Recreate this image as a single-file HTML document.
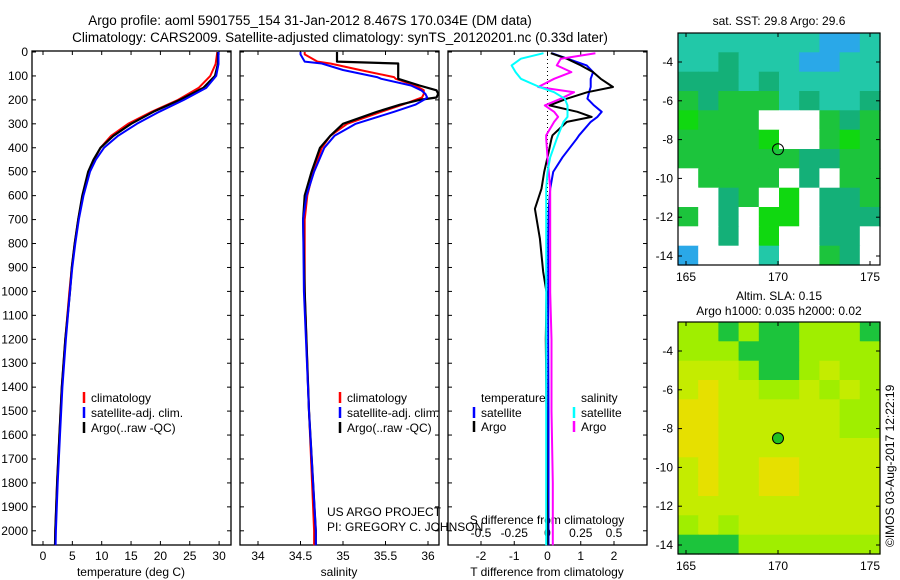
<!DOCTYPE html>
<html><head><meta charset="utf-8">
<style>
body{margin:0;background:#fff;}
svg{display:block;font-family:"Liberation Sans",Arial,sans-serif;}
</style></head>
<body>
<svg id="fig" width="900" height="580" viewBox="0 0 900 580" xmlns="http://www.w3.org/2000/svg">
<text x="310" y="25" font-size="13.5" text-anchor="middle">Argo profile: aoml 5901755_154 31-Jan-2012 8.467S 170.034E (DM data)</text>
<text x="340" y="42" font-size="13.5" text-anchor="middle">Climatology: CARS2009. Satellite-adjusted climatology: synTS_20120201.nc (0.33d later)</text>
<g id="g"></g>
</svg>
<script>
// ---- data ----
const depthT = [0,50,100,150,200,250,300,350,400,450,500,600,700,800,900,1000,1200,1400,1600,1800,2000,2060];
const tempArgo = [29.8,29.8,29.3,27.3,23.3,18.8,15,12,9.8,8.6,7.7,6.7,6.0,5.4,4.9,4.6,3.8,3.2,2.8,2.4,2.1,2.05];
const tempClim = [29.7,29.4,28.5,26.5,23,18.5,14.5,11.6,9.8,8.7,7.8,6.8,6.0,5.4,4.9,4.5,3.8,3.2,2.8,2.4,2.1,2.05];
const tempSat = [29.9,29.9,29.5,27.8,24,19.8,16,12.8,10.4,9.0,8.0,6.9,6.1,5.5,5.0,4.6,3.9,3.3,2.9,2.5,2.2,2.15];
const depthS = [0,10,40,48,75,105,112,140,160,175,190,200,220,250,300,350,400,500,600,700,1000,1500,2000,2060];
const salArgo = [34.93,34.93,34.93,35.65,35.65,35.65,35.65,35.9,36.1,36.12,36.1,35.9,35.67,35.4,35.0,34.85,34.73,34.63,34.55,34.53,34.55,34.6,34.68,34.68];
const salClim = [34.55,34.55,34.7,34.85,35.2,35.6,35.62,35.85,35.95,35.95,35.93,35.85,35.7,35.45,35.05,34.85,34.75,34.65,34.58,34.55,34.55,34.6,34.66,34.66];
const salSat = [34.5,34.5,34.55,34.75,35.0,35.4,35.45,35.8,35.92,35.97,35.99,35.95,35.85,35.6,35.15,34.9,34.78,34.66,34.57,34.53,34.54,34.6,34.68,34.68];
const depthD = [5,28,56,84,112,146,168,195,223,250,271,292,348,362,440,501,571,655,780,919,1003,1200,1500,1800,2000,2060];
const dTsat = [0.13,0.6,1.18,1.37,1.3,1.3,1.25,1.2,1.4,1.63,1.5,1.3,0.95,0.88,0.45,0.17,0.08,0.04,0.02,0.02,0.02,0.02,0.03,0.03,0.03,0.03];
const dTargo = [0.1,0.58,1.0,1.37,1.6,1.97,1.2,0.58,0.06,0.9,1.33,0.58,0.15,0.12,0.0,-0.1,-0.18,-0.38,-0.23,-0.13,-0.03,-0.05,-0.03,-0.02,0.0,0.0];
const dSsat = [-0.03,-0.2,-0.27,-0.24,-0.2,-0.06,0.05,0.13,0.15,0.15,0.15,0.12,0.08,0.07,0.02,0.0,-0.01,-0.01,-0.01,-0.01,-0.01,-0.01,-0.01,-0.01,-0.01,-0.01];
const dSargo = [0.36,0.1,0.07,0.18,0.05,-0.07,0.2,0.1,-0.02,0.05,0.08,0.05,-0.01,-0.01,0.0,0.01,0.02,0.02,0.02,0.02,0.02,0.03,0.03,0.04,0.04,0.04];
const depthTicks = [0,100,200,300,400,500,600,700,800,900,1000,1100,1200,1300,1400,1500,1600,1700,1800,1900,2000];
const tempTicks = [0,5,10,15,20,25,30];
const salTicks = [34,34.5,35,35.5,36];
const salTickLabels = ["34","34.5","35","35.5","36"];
const dTTicks = [-2,-1,0,1,2];
const dSTicks = [-0.5,-0.25,0,0.25,0.5];
const dSTickLabels = ["-0.5","-0.25","0","0.25","0.5"];
const sstRows = ["cccccccbbc","cctcccbbcc","tttctccccc","gtgggctcct","Ggggwwwgtg","ggggGwwgGg","ggggggttgg","wggggwtwgg","wwtgwGwttg","gwtwGGwttt","wwtwGwwttw","bwwwcwwgtw"];
const slaRows = ["LLgLggLLLg","LLLgggLLLL","lllLggLlLL","lyllLLlLlL","yyllllllL L".replace(' ',''),"yyllllllLL","yyllllllll","lyllyyllll","lyllyyllll","lllllllllly".slice(0,10),"LlLlllllll","gggLLLLLLL"];
const mapColors = {c:"#22c8a8",t:"#14b078",g:"#1cc43c",G:"#10d810",w:"#ffffff",b:"#2aa8e8",y:"#e6e000",l:"#c4ec00",L:"#a0ee00"};

// ---- helpers ----
const NS="http://www.w3.org/2000/svg";
const G=document.getElementById('g');
function mk(tag,attrs,parent){const e=document.createElementNS(NS,tag);for(const k in attrs)e.setAttribute(k,attrs[k]);(parent||G).appendChild(e);return e;}
const top0=51, bot0=545;
const yD = d => 52 + d*0.2394;
const xT = v => 43 + v*5.87;
const xS = v => 258 + (v-34)*85;
const xDT = v => 547.5 + v*33.25;
const xDS = v => 547.5 + v*133;

function panel(x0,x1,name){
  const r=mk('rect',{x:x0,y:top0,width:x1-x0,height:bot0-top0,fill:'none',stroke:'#000','stroke-width':1.3});
  
  
  depthTicks.forEach(d=>{mk('line',{x1:x0,x2:x0+4,y1:yD(d),y2:yD(d),stroke:'#000'});mk('line',{x1:x1-4,x2:x1,y1:yD(d),y2:yD(d),stroke:'#000'});});
}
function line(xs,ds,xf,color,name,w){
  const p=xs.map((v,i)=>xf(v).toFixed(1)+','+yD(ds[i]).toFixed(1)).join(' ');
  const e=mk('polyline',{points:p,fill:'none',stroke:color,'stroke-width':w||2,'stroke-linejoin':'round'});
  
  
}
function txt(x,y,s,opts){const e=mk('text',Object.assign({x:x,y:y,'font-size':12},opts||{}));e.textContent=s;return e;}

panel(32,231,'temperature-panel');
panel(240,439,'salinity-panel');
panel(448,647,'difference-panel');

depthTicks.forEach(d=>{const t=txt(28,yD(d)+4,String(d),{'text-anchor':'end'});
  
  });

tempTicks.forEach(v=>{mk('line',{x1:xT(v),x2:xT(v),y1:bot0,y2:bot0-4,stroke:'#000'});mk('line',{x1:xT(v),x2:xT(v),y1:top0,y2:top0+4,stroke:'#000'});
  const t=txt(xT(v),560,String(v),{'text-anchor':'middle'});
  
  });
salTicks.forEach((v,i)=>{mk('line',{x1:xS(v),x2:xS(v),y1:bot0,y2:bot0-4,stroke:'#000'});mk('line',{x1:xS(v),x2:xS(v),y1:top0,y2:top0+4,stroke:'#000'});
  const t=txt(xS(v),560,salTickLabels[i],{'text-anchor':'middle'});
  
  });
dTTicks.forEach(v=>{mk('line',{x1:xDT(v),x2:xDT(v),y1:bot0,y2:bot0-4,stroke:'#000'});mk('line',{x1:xDT(v),x2:xDT(v),y1:top0,y2:top0+4,stroke:'#000'});
  const t=txt(xDT(v),560,String(v),{'text-anchor':'middle'});
  
  });
dSTicks.forEach((v,i)=>{const t=txt(xDS(v),537,dSTickLabels[i],{'text-anchor':'middle'});
  
  });
// zero dotted line
mk('line',{x1:xDT(0),x2:xDT(0),y1:top0,y2:bot0,stroke:'#000','stroke-dasharray':'1,3'});

let t;
t=txt(131,576,'temperature (deg C)',{'text-anchor':'middle'});
t=txt(339,576,'salinity',{'text-anchor':'middle'});
t=txt(547,576,'T difference from climatology',{'text-anchor':'middle'});
t=txt(547,524,'S difference from climatology',{'text-anchor':'middle'});
t=txt(327,516,'US ARGO PROJECT');
t=txt(327,531,'PI: GREGORY C. JOHNSON');

// series
line(tempClim,depthT,xT,'#ff0000','temp-climatology-line');
line(tempArgo,depthT,xT,'#000000','temp-argo-line',2.2);
line(tempSat,depthT,xT,'#0000ff','temp-satellite-line');
line(salClim,depthS,xS,'#ff0000','sal-climatology-line');
line(salArgo,depthS,xS,'#000000','sal-argo-line',2.2);
line(salSat,depthS,xS,'#0000ff','sal-satellite-line');
line(dTsat,depthD,xDT,'#0000ff','t-diff-satellite-line');
line(dTargo,depthD,xDT,'#000000','t-diff-argo-line');
line(dSargo,depthD,xDS,'#ff00ff','s-diff-argo-line');
line(dSsat,depthD,xDS,'#00ffff','s-diff-satellite-line');

function legEntry(x,y,color,label,name){
  mk('line',{x1:x,x2:x,y1:y-10,y2:y+1,stroke:color,'stroke-width':2.5});
  const e=txt(x+7,y,label);
  
  
}
legEntry(84,402,'#ff0000','climatology','legend-climatology');
legEntry(84,417,'#0000ff','satellite-adj. clim.','legend-satellite');
legEntry(84,432,'#000000','Argo(..raw -QC)','legend-argo');
legEntry(340,402,'#ff0000','climatology','legend2-climatology');
legEntry(340,417,'#0000ff','satellite-adj. clim.','legend2-satellite');
legEntry(340,432,'#000000','Argo(..raw -QC)','legend2-argo');
t=txt(481,402,'temperature');
t=txt(581,402,'salinity');
legEntry(474,417,'#0000ff','satellite','legend-t-satellite');
legEntry(474,431,'#000000','Argo','legend-t-argo');
legEntry(574,417,'#00ffff','satellite','legend-s-satellite');
legEntry(574,431,'#ff00ff','Argo','legend-s-argo');

// maps
function map(y0,rows,name,latY0,circleFill){
  const x0=678,w=202,h=232,cw=w/10,ch=h/12;
  rows.forEach((row,r)=>{for(let c=0;c<10;c++){
    const cell=mk('rect',{x:(x0+c*cw).toFixed(1),y:(y0+r*ch).toFixed(1),width:(cw+0.6).toFixed(1),height:(ch+0.6).toFixed(1),fill:mapColors[row[c]]||'#c4ec00'});
    
    
  }});
  const b=mk('rect',{x:x0,y:y0,width:w,height:h,fill:'none',stroke:'#000','stroke-width':1.2});
  
  
  const lonX=l=>686+(l-165)*18.4;
  [165,170,175].forEach(l=>{mk('line',{x1:lonX(l),x2:lonX(l),y1:y0+h,y2:y0+h-4,stroke:'#000'});mk('line',{x1:lonX(l),x2:lonX(l),y1:y0,y2:y0+4,stroke:'#000'});
    const e=txt(lonX(l),y0+h+16,String(l),{'text-anchor':'middle'});
    
    });
  const latY=la=>latY0+(-4-la)*19.4;
  [-4,-6,-8,-10,-12,-14].forEach(la=>{mk('line',{x1:x0,x2:x0+4,y1:latY(la),y2:latY(la),stroke:'#000'});mk('line',{x1:x0+w-4,x2:x0+w,y1:latY(la),y2:latY(la),stroke:'#000'});
    const e=txt(673,latY(la)+4,String(la),{'text-anchor':'end'});
    
    });
  const c=mk('circle',{cx:lonX(170),cy:latY(-8.5),r:5.5,fill:circleFill,stroke:'#000','stroke-width':1});
  
  
}
map(33,sstRows,'sst-map',62,'none');
map(322,slaRows,'sla-map',351,'#20c020');
t=txt(779,25,'sat. SST: 29.8 Argo: 29.6',{'text-anchor':'middle'});
t=txt(779,300,'Altim. SLA: 0.15',{'text-anchor':'middle'});
t=txt(779,315,'Argo h1000: 0.035 h2000: 0.02',{'text-anchor':'middle'});
t=txt(0,0,'©IMOS 03-Aug-2017 12:22:19',{transform:'translate(894,547) rotate(-90)'});
</script>
</body></html>
